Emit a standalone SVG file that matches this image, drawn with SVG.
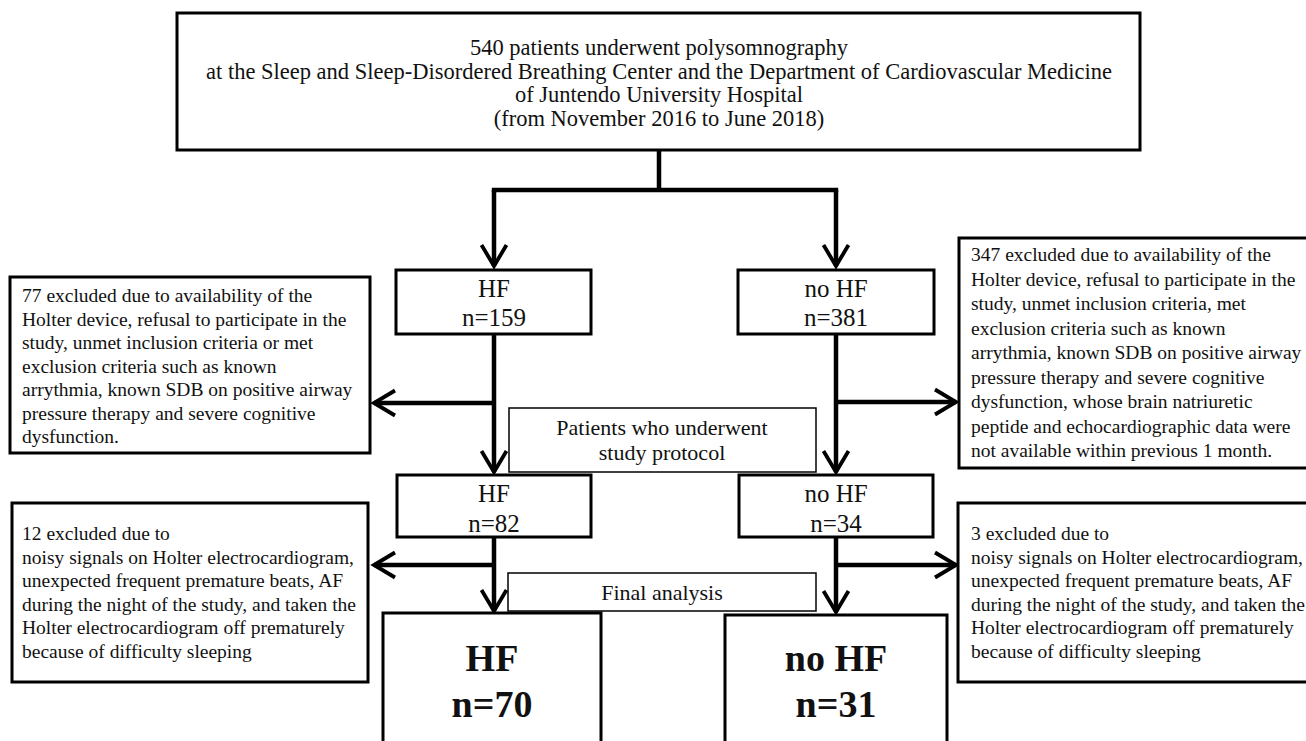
<svg xmlns="http://www.w3.org/2000/svg" width="1306" height="741" viewBox="0 0 1306 741">
<defs>
<style>
.box{fill:#fff;stroke:#000;stroke-width:3}
.thin{fill:#fff;stroke:#000;stroke-width:1.5}
.t{font-family:"Liberation Serif","Times New Roman",serif;fill:#111}
.top{font-size:22.5px;text-anchor:middle}
.ex{font-size:19.5px}
.mid{font-size:25px;text-anchor:middle}
.lab{font-size:22px;text-anchor:middle}
.big{font-size:38px;font-weight:bold;text-anchor:middle}
.ln{fill:none;stroke:#000;stroke-width:4.5}
</style>
<marker id="ah" markerUnits="userSpaceOnUse" markerWidth="40" markerHeight="40" viewBox="-30 -20 40 40" refX="-2" refY="0" orient="auto" overflow="visible">
<path d="M-23,-12.5 L-2,0 L-23,12.5" fill="none" stroke="#000" stroke-width="3.8"/>
</marker>
</defs>
<rect width="1306" height="741" fill="#fff"/>

<g id="connectors">
<path class="ln" d="M659,150 V190 M491.8,190 H838.2"/>
<path class="ln" d="M494,190 V266" marker-end="url(#ah)"/>
<path class="ln" d="M836,190 V266" marker-end="url(#ah)"/>
<path class="ln" d="M494,334 V472" marker-end="url(#ah)"/>
<path class="ln" d="M494,403 H374" marker-end="url(#ah)"/>
<path class="ln" d="M836,334 V472" marker-end="url(#ah)"/>
<path class="ln" d="M836,402 H956" marker-end="url(#ah)"/>
<path class="ln" d="M494,537 V611" marker-end="url(#ah)"/>
<path class="ln" d="M494,565 H374" marker-end="url(#ah)"/>
<path class="ln" d="M836,537 V612" marker-end="url(#ah)"/>
<path class="ln" d="M836,565 H956" marker-end="url(#ah)"/>
</g>

<g id="top">
<rect class="box" x="177" y="13" width="963" height="137"/>
<text class="t top" x="659" y="55">540 patients underwent polysomnography</text>
<text class="t top" x="659" y="78.5">at the Sleep and Sleep-Disordered Breathing Center and the Department of Cardiovascular Medicine</text>
<text class="t top" x="659" y="102">of Juntendo University Hospital</text>
<text class="t top" x="659" y="125.5">(from November 2016 to June 2018)</text>
</g>

<g id="hf1">
<rect class="box" x="396" y="270" width="195" height="64"/>
<text class="t mid" x="494" y="297">HF</text>
<text class="t mid" x="494" y="326">n=159</text>
</g>

<g id="nohf1">
<rect class="box" x="738" y="270" width="196" height="64"/>
<text class="t mid" x="836" y="297">no HF</text>
<text class="t mid" x="836" y="326">n=381</text>
</g>

<g id="excl77">
<rect class="box" x="10" y="277" width="360" height="176"/>
<text class="t ex" x="22" y="302">77 excluded due to availability of the</text>
<text class="t ex" x="22" y="325.5">Holter device, refusal to participate in the</text>
<text class="t ex" x="22" y="349">study, unmet inclusion criteria or met</text>
<text class="t ex" x="22" y="372.5">exclusion criteria such as known</text>
<text class="t ex" x="22" y="396">arrythmia, known SDB on positive airway</text>
<text class="t ex" x="22" y="419.5">pressure therapy and severe cognitive</text>
<text class="t ex" x="22" y="443">dysfunction.</text>
</g>

<g id="excl347">
<rect class="box" x="959" y="238" width="352" height="230"/>
<text class="t ex" x="971" y="261">347 excluded due to availability of the</text>
<text class="t ex" x="971" y="285.5">Holter device, refusal to participate in the</text>
<text class="t ex" x="971" y="310">study, unmet inclusion criteria, met</text>
<text class="t ex" x="971" y="334.5">exclusion criteria such as known</text>
<text class="t ex" x="971" y="359">arrythmia, known SDB on positive airway</text>
<text class="t ex" x="971" y="383.5">pressure therapy and severe cognitive</text>
<text class="t ex" x="971" y="408">dysfunction, whose brain natriuretic</text>
<text class="t ex" x="971" y="432.5">peptide and echocardiographic data were</text>
<text class="t ex" x="971" y="457">not available within previous 1 month.</text>
</g>

<g id="protocol">
<rect class="thin" x="509" y="408" width="307" height="64"/>
<text class="t lab" x="662" y="435">Patients who underwent</text>
<text class="t lab" x="662" y="460">study protocol</text>
</g>

<g id="hf2">
<rect class="box" x="397" y="475" width="194" height="62"/>
<text class="t mid" x="494" y="502">HF</text>
<text class="t mid" x="494" y="532">n=82</text>
</g>

<g id="nohf2">
<rect class="box" x="739" y="475" width="194" height="62"/>
<text class="t mid" x="836" y="502">no HF</text>
<text class="t mid" x="836" y="532">n=34</text>
</g>

<g id="excl12">
<rect class="box" x="12" y="503" width="356" height="179"/>
<text class="t ex" x="22" y="540">12 excluded due to</text>
<text class="t ex" x="22" y="563.5">noisy signals on Holter electrocardiogram,</text>
<text class="t ex" x="22" y="587">unexpected frequent premature beats, AF</text>
<text class="t ex" x="22" y="610.5">during the night of the study, and taken the</text>
<text class="t ex" x="22" y="634">Holter electrocardiogram off prematurely</text>
<text class="t ex" x="22" y="657.5">because of difficulty sleeping</text>
</g>

<g id="excl3">
<rect class="box" x="958" y="503" width="353" height="179"/>
<text class="t ex" x="971" y="540">3 excluded due to</text>
<text class="t ex" x="971" y="563.5">noisy signals on Holter electrocardiogram,</text>
<text class="t ex" x="971" y="587">unexpected frequent premature beats, AF</text>
<text class="t ex" x="971" y="610.5">during the night of the study, and taken the</text>
<text class="t ex" x="971" y="634">Holter electrocardiogram off prematurely</text>
<text class="t ex" x="971" y="657.5">because of difficulty sleeping</text>
</g>

<g id="final">
<rect class="thin" x="508" y="573" width="308" height="38"/>
<text class="t lab" x="662" y="600">Final analysis</text>
</g>

<g id="hf-final">
<rect class="box" x="383" y="613" width="218" height="150"/>
<text class="t big" x="492" y="671">HF</text>
<text class="t big" x="492" y="717">n=70</text>
</g>

<g id="nohf-final">
<rect class="box" x="725" y="615" width="222" height="150"/>
<text class="t big" x="836" y="671">no HF</text>
<text class="t big" x="836" y="717">n=31</text>
</g>
</svg>
